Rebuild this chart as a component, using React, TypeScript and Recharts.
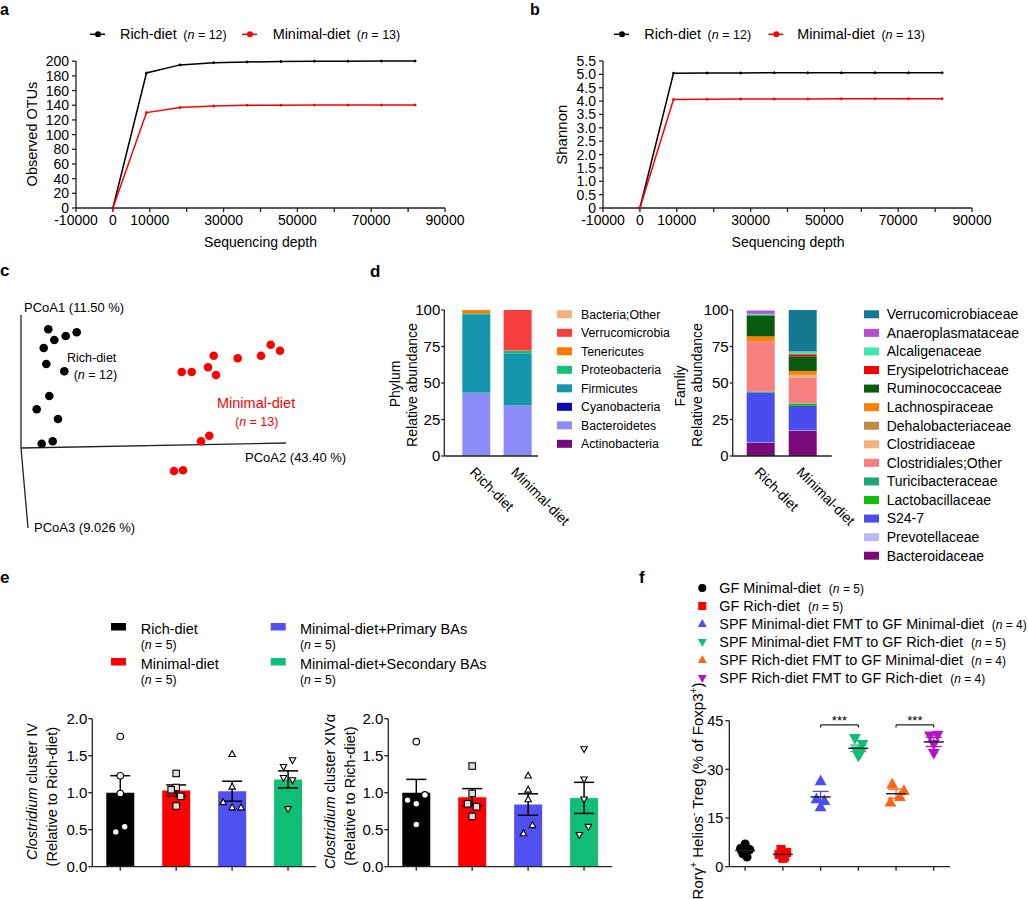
import React from 'react';
import {
  LineChart, Line, XAxis, YAxis, BarChart, Bar, Cell, ComposedChart, Scatter, ScatterChart, ErrorBar, ReferenceLine,
} from 'recharts';

const FONT = '"Liberation Sans", Arial, Helvetica, sans-serif';
const AX = '#222';

// ---- a / b : rarefaction curves ----
const depths = [0, 9100, 18200, 27300, 36400, 45500, 54600, 63700, 72800, 81900];
const richOtus = [0, 184, 195, 198, 199, 199.5, 200, 200, 200.2, 200.3];
const minimalOtus = [0, 130, 137, 139, 140, 140, 140.2, 140.2, 140.3, 140.3];
const richShannon = [0, 5.04, 5.05, 5.05, 5.06, 5.06, 5.06, 5.06, 5.06, 5.06];
const minimalShannon = [0, 4.06, 4.07, 4.08, 4.08, 4.08, 4.09, 4.09, 4.09, 4.09];
const depthTicks = [-10000, 0, 10000, 20000, 30000, 40000, 50000, 60000, 70000, 80000, 90000];
const depthTickLabels = ['-10000', '0', '10000', '', '30000', '', '50000', '', '70000', '', '90000'];
const otuTicks = [0, 20, 40, 60, 80, 100, 120, 140, 160, 180, 200];
const shannonTicks = [0, 0.5, 1, 1.5, 2, 2.5, 3, 3.5, 4, 4.5, 5, 5.5];

// ---- c : PCoA (projected scores) ----
const richPc2 = [27.3, 33.3, 44.7, 55.7, 22.7, 25.3, 43.3, 28.3, 15.7, 37, 20.7, 31.7];
const richPc1 = [118.7, 108, 112, 115.7, 100, 84, 76.7, 52, 38.7, 29, 4.3, 6.7];
const minimalPc2 = [249.7, 259, 240, 216.7, 192.7, 187, 195, 160.7, 170.7, 188.3, 180, 153, 162];
const minimalPc1 = [103.3, 97.3, 92.3, 89.7, 92.3, 80.7, 73, 76, 76, 12.3, 6.7, -23, -22.3];
const pcoaAxisEndX = [0, 265, 7];
const pcoaAxisEndY = [133, 5, -80];

// ---- d : relative abundance ----
const dietGroups = ['Rich-diet', 'Minimal-diet'];
const phyla = ['Actinobacteria', 'Bacteroidetes', 'Cyanobacteria', 'Firmicutes', 'Proteobacteria', 'Tenericutes', 'Verrucomicrobia', 'Bacteria;Other'];
const phylumRich = [0.1, 43.1, 0.05, 53.8, 0.7, 2.2, 0, 0.05];
const phylumMinimal = [0.1, 34.5, 0.05, 35.8, 1.5, 0.3, 27.7, 0.05];
const phylumColors = ['#7a0a78', '#8c8cf8', '#0a0ab4', '#1496ad', '#16c07a', '#ff7a00', '#f5403f', '#f3b27c'];
const families = ['Bacteroidaceae', 'Prevotellaceae', 'S24-7', 'Lactobacillaceae', 'Turicibacteraceae', 'Clostridiales;Other', 'Clostridiaceae', 'Dehalobacteriaceae', 'Lachnospiraceae', 'Ruminococcaceae', 'Erysipelotrichaceae', 'Alcaligenaceae', 'Anaeroplasmataceae', 'Verrucomicrobiaceae'];
const familyRich = [8.9, 0.3, 34.0, 0.1, 0.9, 34.0, 0.1, 0.1, 3.5, 14.4, 0.1, 1.0, 2.2, 0];
const familyMinimal = [17.2, 0.3, 16.8, 1.4, 0.3, 17.5, 1.6, 0.5, 2.6, 10.1, 1.4, 1.8, 0.3, 28.2];
const familyColors = ['#7a0a78', '#b8b9f7', '#4a4cf0', '#10c010', '#19a874', '#f77f7f', '#f2b27a', '#c08b48', '#ff7f00', '#0b5a12', '#ff0000', '#3fe7a8', '#b54fd6', '#137a93'];

// ---- e : qPCR ----
const qpcrGroups = ['Rich-diet', 'Minimal-diet', 'Minimal-diet+Primary BAs', 'Minimal-diet+Secondary BAs'];
const qpcrColors = ['#000000', '#ff0000', '#5050f0', '#10be78'];
const clusterIVMean = [1.0, 1.03, 1.02, 1.18];
const clusterIVSem = [0.23, 0.075, 0.135, 0.115];
const clusterIVPoints = [[1.76, 1.23, 0.99, 0.54, 0.47], [1.26, 1.07, 1.04, 0.95, 0.82], [1.52, 1.08, 0.87, 0.8, 0.8], [1.44, 1.35, 1.2, 1.17, 0.78]];
const clusterIVJitter = [[0, 0, 0, 0.08, -0.08], [0, 0, -0.09, 0.08, 0], [0, 0, -0.16, 0, 0.16], [0.08, -0.08, -0.08, 0.08, 0]];
const clusterXIVMean = [1.0, 0.94, 0.84, 0.93];
const clusterXIVSem = [0.18, 0.115, 0.145, 0.21];
const clusterXIVPoints = [[1.69, 0.97, 0.9, 0.85, 0.57], [1.36, 0.99, 0.85, 0.81, 0.68], [1.23, 1.04, 0.91, 0.56, 0.45], [1.59, 1.18, 0.91, 0.54, 0.43]];
const clusterXIVJitter = [[0, 0.155, -0.155, 0, 0], [0, 0, -0.083, 0.077, 0], [0, 0, 0, 0.077, -0.083], [0, 0, 0, 0.077, -0.083]];

// ---- f : Treg ----
const tregGroups = ['GF Minimal-diet', 'GF Rich-diet', 'SPF Minimal-diet FMT to GF Minimal-diet', 'SPF Minimal-diet FMT to GF Rich-diet', 'SPF Rich-diet FMT to GF Minimal-diet', 'SPF Rich-diet FMT to GF Rich-diet'];
const tregN = [5, 5, 4, 5, 4, 4];
const tregColors = ['#000000', '#ff0000', '#4b4ff2', '#10be78', '#ff6414', '#b414c8'];
const tregShapes = ['circle', 'square', 'up', 'down', 'up', 'down'];
const tregValues = [[7.0, 5.6, 5.3, 4.0, 3.0], [5.3, 4.4, 3.8, 3.0, 2.6], [26.4, 20.8, 20.3, 18.4], [39.6, 37.8, 35.8, 35.0, 34.2], [25.4, 23.4, 21.5, 19.8], [40.6, 40.4, 37.8, 35.0]];
const tregJitter = [[0, -0.12, 0.12, -0.06, 0.05], [-0.05, 0.1, -0.1, 0.05, 0], [0, -0.11, 0.1, 0], [-0.09, 0.11, -0.05, 0.05, 0], [-0.1, 0.21, 0.1, -0.15], [0.1, -0.1, 0, 0]];
const tregMean = [4.98, 3.8, 21.5, 36.5, 22.5, 38.45];
const tregSem = [0.7, 0.5, 1.7, 1.0, 1.4, 1.4];
const tregSignif = [[3, 4], [5, 6]];

const bl = (c: number, s: number) => c + 0.35 * s;

function Marker({ kind, cx, cy, size, fill, stroke }: any) {
  if (kind === 'circle') return <circle cx={cx} cy={cy} r={size / 2} fill={fill} stroke={stroke} strokeWidth={1.1} />;
  if (kind === 'square') return <rect x={cx - size / 2} y={cy - size / 2} width={size} height={size} fill={fill} stroke={stroke} strokeWidth={1.1} />;
  const h = size * 0.9;
  if (kind === 'up') return <polygon points={`${cx},${cy - h * 0.6} ${cx - size / 2},${cy + h * 0.4} ${cx + size / 2},${cy + h * 0.4}`} fill={fill} stroke={stroke} strokeWidth={1.1} />;
  return <polygon points={`${cx},${cy + h * 0.6} ${cx - size / 2},${cy - h * 0.4} ${cx + size / 2},${cy - h * 0.4}`} fill={fill} stroke={stroke} strokeWidth={1.1} />;
}

const tickStyle = (s: number) => ({ fontSize: s, fill: '#000' });

function Rarefaction({ rich, minimal, domain, ticks, fmt }: any) {
  const rows = depths.map((d, i) => ({ depth: d, rich: rich[i], minimal: minimal[i] }));
  return (
    <LineChart width={500} height={260} data={rows} margin={{ top: 61, right: 55, bottom: 22, left: 0 }}>
      <XAxis dataKey="depth" type="number" domain={[-10000, 90000]} ticks={depthTicks} interval={0}
        tickFormatter={(v: number) => depthTickLabels[depthTicks.indexOf(v)]} tick={tickStyle(14)}
        tickSize={4} tickMargin={3} stroke={AX} strokeWidth={1.3} height={30} />
      <YAxis type="number" domain={domain} ticks={ticks} interval={0} tickFormatter={fmt} width={76}
        tick={tickStyle(14)} tickSize={4} tickMargin={3} stroke={AX} strokeWidth={1.3} />
      <Line dataKey="rich" stroke="#000" strokeWidth={1.5} dot={{ r: 1, fill: '#000', stroke: '#000', strokeWidth: 1 }} isAnimationActive={false} />
      <Line dataKey="minimal" stroke="#ff0000" strokeWidth={1.5} dot={{ r: 1, fill: '#ff0000', stroke: '#ff0000', strokeWidth: 1 }} isAnimationActive={false} />
    </LineChart>
  );
}

function PcoaChart() {
  const richPts = richPc2.map((x, i) => ({ x, y: richPc1[i] }));
  const minPts = minimalPc2.map((x, i) => ({ x, y: minimalPc1[i] }));
  return (
    <ScatterChart width={300} height={250} margin={{ top: 0, right: 0, bottom: 0, left: 0 }}>
      <XAxis type="number" dataKey="x" domain={[-21, 279]} hide />
      <YAxis type="number" dataKey="y" domain={[-92, 158]} hide />
      {pcoaAxisEndX.map((ex, i) => (
        <ReferenceLine key={i} segment={[{ x: 0, y: 0 }, { x: ex, y: pcoaAxisEndY[i] }]} stroke={AX} strokeWidth={1.3} ifOverflow="visible" />
      ))}
      <Scatter data={richPts} isAnimationActive={false} shape={(p: any) => <circle cx={p.cx} cy={p.cy} r={4.3} fill="#000" />} />
      <Scatter data={minPts} isAnimationActive={false} shape={(p: any) => <circle cx={p.cx} cy={p.cy} r={4.3} fill="#ff0000" />} />
    </ScatterChart>
  );
}

function RotTick({ x, y, payload }: any) {
  const bx = x - 7;
  const by = y + 17;
  return <text x={bx} y={by} transform={`rotate(45 ${bx} ${by})`} fontSize={14} fill="#000">{payload.value}</text>;
}

function StackChart({ names, rich, minimal, colors, width, right, yWidth, padL, padR }: any) {
  const rows = dietGroups.map((g, gi) => {
    const r: any = { name: g };
    names.forEach((_: string, i: number) => { r[`k${i}`] = gi === 0 ? rich[i] : minimal[i]; });
    return r;
  });
  return (
    <BarChart width={width} height={250} data={rows} margin={{ top: 20, right, bottom: 14, left: 0 }}>
      <XAxis dataKey="name" type="category" padding={{ left: padL, right: padR }} tickSize={0} tickMargin={0}
        tick={<RotTick />} interval={0} height={70} stroke={AX} strokeWidth={1.3} />
      <YAxis type="number" domain={[0, 100]} ticks={[0, 25, 50, 75, 100]} interval={0} width={yWidth}
        tick={tickStyle(15)} tickSize={3} tickMargin={1} stroke={AX} strokeWidth={1.3} />
      {names.map((_: string, i: number) => (
        <Bar key={i} dataKey={`k${i}`} stackId="s" fill={colors[i]} barSize={28} isAnimationActive={false} />
      ))}
    </BarChart>
  );
}

const qpcrShapes = ['circle', 'square', 'up', 'down'];
const qpcrFill = ['#fff', '#ddd', '#fff', '#fff'];

function QpcrChart({ means, sems, points, jitter }: any) {
  const rows = qpcrGroups.map((g, i) => ({ group: g, mean: means[i], sem: sems[i] }));
  return (
    <ComposedChart width={320} height={180} data={rows} margin={{ top: 18.7, right: 4, bottom: 5.3, left: 0 }}>
      <XAxis xAxisId="cat" dataKey="group" type="category" tickFormatter={() => ''} tickSize={4} height={8}
        interval={0} stroke={AX} strokeWidth={1.3} />
      <XAxis xAxisId="num" type="number" dataKey="x" domain={[0.5, 4.5]} hide />
      <YAxis type="number" domain={[0, 2]} ticks={[0, 0.5, 1, 1.5, 2]} interval={0} tickFormatter={(v: number) => v.toFixed(1)}
        width={92.3} tick={tickStyle(15)} tickSize={4} tickMargin={1} stroke={AX} strokeWidth={1.3} />
      <Bar xAxisId="cat" dataKey="mean" barSize={28} isAnimationActive={false}>
        {rows.map((_, i) => <Cell key={i} fill={qpcrColors[i]} />)}
        <ErrorBar dataKey="sem" width={10} stroke="#000" strokeWidth={1.5} direction="y" />
      </Bar>
      {points.map((vals: number[], gi: number) => (
        <Scatter key={gi} xAxisId="num" dataKey="y" isAnimationActive={false}
          data={vals.map((v, k) => ({ x: gi + 1 + jitter[gi][k], y: v }))}
          shape={(p: any) => <Marker kind={qpcrShapes[gi]} cx={p.cx} cy={p.cy} size={6.5} fill={qpcrFill[gi]} stroke="#000" />} />
      ))}
    </ComposedChart>
  );
}

function TregChart() {
  return (
    <ComposedChart width={295} height={180} margin={{ top: 20.7, right: 5, bottom: 5.3, left: 0 }}>
      <XAxis type="number" dataKey="x" domain={[0.58, 6.43]} ticks={[1, 2, 3, 4, 5, 6]} interval={0}
        tickFormatter={() => ''} height={8} tickSize={4} stroke={AX} strokeWidth={1.3} />
      <YAxis type="number" domain={[0, 45]} ticks={[0, 15, 30, 45]} interval={0} width={69.3}
        tick={tickStyle(14.5)} tickSize={4} tickMargin={2} stroke={AX} strokeWidth={1.3} />
      {tregValues.map((vals, gi) => (
        <Scatter key={`p${gi}`} dataKey="y" isAnimationActive={false}
          data={vals.map((v, k) => ({ x: gi + 1 + tregJitter[gi][k], y: v }))}
          shape={(p: any) => <Marker kind={tregShapes[gi]} cx={p.cx} cy={p.cy} size={tregShapes[gi] === 'circle' || tregShapes[gi] === 'square' ? 8 : 10} fill={tregColors[gi]} stroke={tregColors[gi]} />} />
      ))}
      {tregMean.map((m, gi) => (
        <Scatter key={`m${gi}`} dataKey="y" isAnimationActive={false} data={[{ x: gi + 1, y: m, sem: tregSem[gi] }]}
          shape={(p: any) => <line x1={p.cx - 10} x2={p.cx + 10} y1={p.cy} y2={p.cy} stroke="#222" strokeWidth={1.5} />}>
          <ErrorBar dataKey="sem" direction="y" width={8} stroke={gi < 2 ? '#222' : tregColors[gi]} strokeWidth={1.3} />
        </Scatter>
      ))}
      {tregSignif.map(([a, b], i) => (
        <React.Fragment key={i}>
          <ReferenceLine segment={[{ x: a, y: 43.7 }, { x: b, y: 43.7 }]} stroke="#222" strokeWidth={1.2} ifOverflow="visible"
            label={{ value: '***', position: 'top', fontSize: 13, fill: '#000', offset: 0 }} />
          <ReferenceLine segment={[{ x: a, y: 43.7 }, { x: a, y: 42.9 }]} stroke="#222" strokeWidth={1.2} ifOverflow="visible" />
          <ReferenceLine segment={[{ x: b, y: 43.7 }, { x: b, y: 42.9 }]} stroke="#222" strokeWidth={1.2} ifOverflow="visible" />
        </React.Fragment>
      ))}
    </ComposedChart>
  );
}

function T({ x, y, s = 14, children, anchor = 'start', fill = '#000', bold = false }: any) {
  return <text x={x} y={bl(y, s)} fontSize={s} textAnchor={anchor} fill={fill} fontWeight={bold ? 'bold' : 'normal'}>{children}</text>;
}
function RT({ x, y, s = 14, children }: any) {
  return <text transform={`translate(${x},${y}) rotate(-90)`} y={0.35 * s} fontSize={s} textAnchor="middle" fill="#000">{children}</text>;
}
function N({ v, dx = 7, s = 12.5 }: any) {
  return <tspan dx={dx} fontSize={s}>(<tspan fontStyle="italic">n</tspan> = {v})</tspan>;
}
function LineKey({ x, y, color }: any) {
  return (
    <g>
      <line x1={x} x2={x + 15} y1={y} y2={y} stroke={color} strokeWidth={1.5} />
      <circle cx={x + 8} cy={y} r={3} fill={color} />
    </g>
  );
}

export default function App() {
  return (
    <div style={{ position: 'absolute', left: 0, top: 0, width: 1028, height: 899, background: '#fff', fontFamily: FONT, overflow: 'hidden' }}>
      <div style={{ position: 'absolute', left: 0, top: 0 }}>
        <Rarefaction rich={richOtus} minimal={minimalOtus} domain={[0, 200]} ticks={otuTicks} fmt={(v: number) => `${v}`} />
      </div>
      <div style={{ position: 'absolute', left: 527, top: 0 }}>
        <Rarefaction rich={richShannon} minimal={minimalShannon} domain={[0, 5.5]} ticks={shannonTicks} fmt={(v: number) => (v === 0 ? '0' : v.toFixed(1))} />
      </div>
      <div style={{ position: 'absolute', left: 0, top: 290 }}>
        <PcoaChart />
      </div>
      <div style={{ position: 'absolute', left: 380, top: 290 }}>
        <StackChart names={phyla} rich={phylumRich} minimal={phylumMinimal} colors={phylumColors} width={230} right={72} yWidth={64.3} padL={11} padR={0} />
      </div>
      <div style={{ position: 'absolute', left: 670, top: 290 }}>
        <StackChart names={families} rich={familyRich} minimal={familyMinimal} colors={familyColors} width={235} right={73.3} yWidth={62.7} padL={7} padR={8} />
      </div>
      <div style={{ position: 'absolute', left: 0, top: 700 }}>
        <QpcrChart means={clusterIVMean} sems={clusterIVSem} points={clusterIVPoints} jitter={clusterIVJitter} />
      </div>
      <div style={{ position: 'absolute', left: 296, top: 700 }}>
        <QpcrChart means={clusterXIVMean} sems={clusterXIVSem} points={clusterXIVPoints} jitter={clusterXIVJitter} />
      </div>
      <div style={{ position: 'absolute', left: 660, top: 700 }}>
        <TregChart />
      </div>

      <svg width={1028} height={899} style={{ position: 'absolute', left: 0, top: 0, pointerEvents: 'none' }} fontFamily={FONT}>
        {/* panel letters */}
        <text x={0} y={14.5} fontSize={16} fontWeight="bold">a</text>
        <text x={530} y={14.5} fontSize={16} fontWeight="bold">b</text>
        <text x={0} y={276} fontSize={17} fontWeight="bold">c</text>
        <text x={370} y={277} fontSize={17} fontWeight="bold">d</text>
        <text x={0} y={583} fontSize={17} fontWeight="bold">e</text>
        <text x={639} y={583} fontSize={17} fontWeight="bold">f</text>

        {/* a legend + titles */}
        <LineKey x={90} y={34.3} color="#000" />
        <T x={120} y={34.3} s={14.4}>Rich-diet<N v={12} dx={6.5} /></T>
        <LineKey x={242} y={34.3} color="#ff0000" />
        <T x={272.7} y={34.3} s={14.4}>Minimal-diet<N v={13} dx={6.5} /></T>
        <RT x={31.7} y={134} s={14.5}>Observed OTUs</RT>
        <T x={260.5} y={241.7} s={14} anchor="middle">Sequencing depth</T>

        {/* b legend + titles */}
        <LineKey x={614} y={34.3} color="#000" />
        <T x={644.3} y={34.3} s={14.4}>Rich-diet<N v={12} dx={6.5} /></T>
        <LineKey x={768.3} y={34.3} color="#ff0000" />
        <T x={797.3} y={34.3} s={14.4}>Minimal-diet<N v={13} dx={6.5} /></T>
        <RT x={561.5} y={134.7} s={15}>Shannon</RT>
        <T x={788} y={241.7} s={14} anchor="middle">Sequencing depth</T>

        {/* c labels */}
        <T x={24} y={307} s={13}>PCoA1 (11.50 %)</T>
        <T x={245} y={457} s={13}>PCoA2 (43.40 %)</T>
        <T x={34} y={527.3} s={13}>PCoA3 (9.026 %)</T>
        <T x={67} y={357.7} s={12.5}>Rich-diet</T>
        <T x={73.7} y={375} s={12.5}>(<tspan fontStyle="italic">n</tspan> = 12)</T>
        <T x={217} y={403} s={14.5} fill="#ff0000">Minimal-diet</T>
        <T x={235} y={421.7} s={12.5} fill="#ff0000">(<tspan fontStyle="italic">n</tspan> = 13)</T>

        {/* d titles + legends */}
        <RT x={395} y={384} s={14}>Phylum</RT>
        <RT x={412} y={385} s={14}>Relative abundance</RT>
        {phyla.map((_, k) => {
          const i = phyla.length - 1 - k;
          const cy = 314.3 + k * 18.5;
          return (
            <g key={k}>
              <rect x={557} y={cy - 4} width={15} height={8} fill={phylumColors[i]} />
              <T x={581} y={cy} s={12.3}>{phyla[i]}</T>
            </g>
          );
        })}
        <RT x={680} y={386} s={14}>Famliy</RT>
        <RT x={697} y={385} s={14}>Relative abundance</RT>
        {families.map((_, k) => {
          const i = families.length - 1 - k;
          const cy = 314.3 + k * 18.57;
          return (
            <g key={k}>
              <rect x={864} y={cy - 4} width={15} height={8} fill={familyColors[i]} />
              <T x={886.7} y={cy} s={14}>{families[i]}</T>
            </g>
          );
        })}

        {/* e legend + titles */}
        {qpcrGroups.map((g, i) => {
          const order = [0, 2, 1, 3][i];
          const gx = order % 2 === 0 ? 111 : 270.7;
          const gtx = order % 2 === 0 ? 140.7 : 300;
          const gcy = order < 2 ? 629 : 664;
          return (
            <g key={i}>
              <rect x={gx} y={gcy - 6} width={15} height={7.5} fill={qpcrColors[i]} />
              <T x={gtx} y={gcy} s={14.5}>{g}</T>
              <T x={gtx} y={gcy + 15.3} s={12.3}>(<tspan fontStyle="italic">n</tspan> = 5)</T>
            </g>
          );
        })}
        <RT x={31.7} y={791.5} s={14.5}><tspan fontStyle="italic">Clostridium</tspan> cluster IV</RT>
        <RT x={51.7} y={796.7} s={14.5}>(Relative to Rich-diet)</RT>
        <RT x={330} y={791.5} s={14.5}><tspan fontStyle="italic">Clostridium</tspan> cluster XIVα</RT>
        <RT x={350} y={796} s={14.5}>(Relative to Rich-diet)</RT>

        {/* f legend + title */}
        {tregGroups.map((g, i) => {
          const cy = 588 + i * 18;
          return (
            <g key={i}>
              <Marker kind={tregShapes[i]} cx={702.3} cy={cy} size={7} fill={tregColors[i]} stroke={tregColors[i]} />
              <T x={719.3} y={cy} s={14.4}>{g}<N v={tregN[i]} dx={8} s={12} /></T>
            </g>
          );
        })}
        <text transform="translate(698,791) rotate(-90)" y={5.2} fontSize={15} textAnchor="middle" fill="#000">
          Rorγ<tspan dy={-6} fontSize={10}>+</tspan><tspan dy={6}> Helios</tspan><tspan dy={-6} fontSize={10}>-</tspan><tspan dy={6}> Treg (% of Foxp3</tspan><tspan dy={-6} fontSize={10}>+</tspan><tspan dy={6}>)</tspan>
        </text>
      </svg>
    </div>
  );
}
